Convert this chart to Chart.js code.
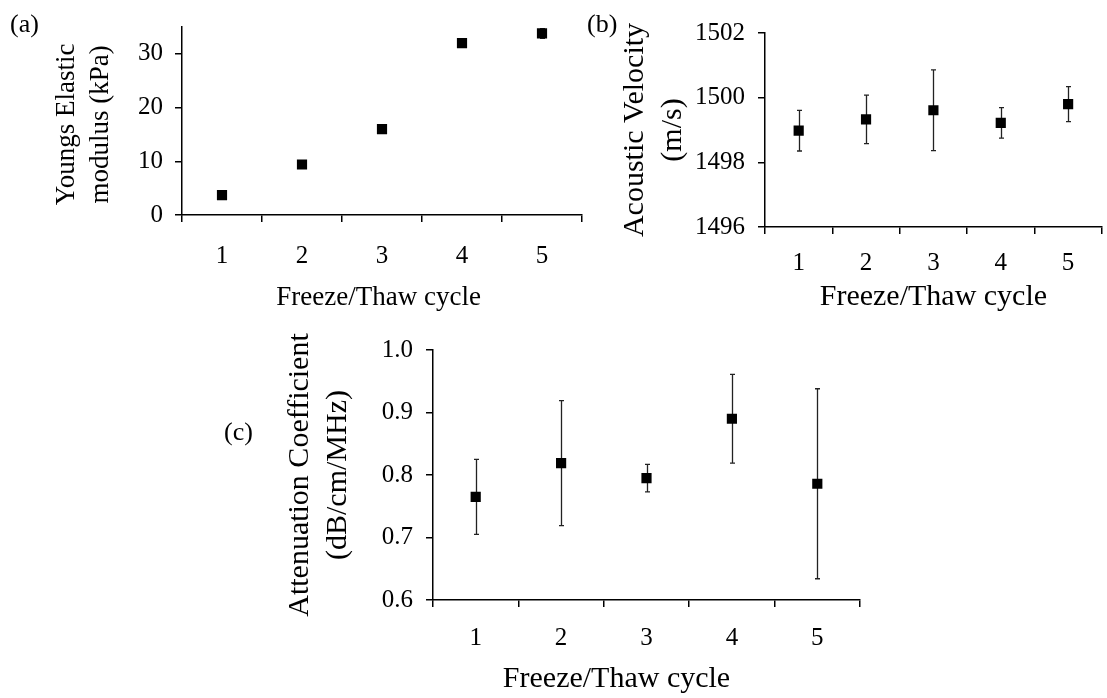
<!DOCTYPE html>
<html>
<head>
<meta charset="utf-8">
<script src="https://cdn.jsdelivr.net/npm/chart.js@4.4.1/dist/chart.umd.min.js"></script>
<style>
  body { margin: 0; background: #fff; overflow: hidden; width: 1107px; height: 698px; position: relative; }
  canvas { position: absolute; }
  .lab { position: absolute; font-family: 'Liberation Serif', serif; font-size: 26px; line-height: 26px; color: #000; z-index: 2; }
</style>
</head>
<body>
<canvas id="chartA" width="600" height="316" style="left:0;top:0"></canvas>
<canvas id="chartB" width="549" height="316" style="left:560px;top:0"></canvas>
<canvas id="chartC" width="620" height="378" style="left:250px;top:320px"></canvas>
<div class="lab" style="left:10px;top:11px">(a)</div>
<div class="lab" style="left:587px;top:11px">(b)</div>
<div class="lab" style="left:224px;top:419px">(c)</div>
<script>
// data
const cycles = ['1', '2', '3', '4', '5'];
const youngsModulus = [3.7, 9.4, 16.0, 32.0, 33.8];
const youngsErr = [0, 0, 0, 0, 0.9];
const velocity = [1498.98, 1499.33, 1499.61, 1499.22, 1499.80];
const velocityErr = [0.63, 0.75, 1.25, 0.47, 0.54];
const attenuation = [0.765, 0.819, 0.795, 0.890, 0.786];
const attenuationErr = [0.060, 0.100, 0.022, 0.071, 0.152];

const serif = 'Liberation Serif';
const nb = '\u00a0';

// error bars drawn from the y scale, behind the markers
const errorBarPlugin = {
  id: 'errorBars',
  beforeDatasetsDraw(chart, args, opts) {
    const errs = opts.errors;
    if (!errs) return;
    const ctx = chart.ctx;
    const meta = chart.getDatasetMeta(0);
    const yScale = chart.scales.y;
    const vals = chart.data.datasets[0].data;
    ctx.save();
    ctx.strokeStyle = opts.color;
    ctx.lineWidth = opts.width;
    meta.data.forEach(function(pt, i) {
      const e = errs[i];
      if (!e) return;
      const x = Math.round(pt.x) + 0.5;
      const top = yScale.getPixelForValue(vals[i] + e);
      const bot = yScale.getPixelForValue(vals[i] - e);
      ctx.beginPath();
      ctx.moveTo(x, top); ctx.lineTo(x, bot);
      ctx.moveTo(x - 2.5, top); ctx.lineTo(x + 2.5, top);
      ctx.moveTo(x - 2.5, bot); ctx.lineTo(x + 2.5, bot);
      ctx.stroke();
    });
    ctx.restore();
  }
};

function makePanel(id, p) {
  return new Chart(document.getElementById(id), {
    type: 'line',
    data: {
      labels: cycles,
      datasets: [{
        data: p.values,
        showLine: false,
        pointStyle: 'rect',
        pointRadius: 7.2,
        pointBackgroundColor: '#000',
        pointBorderColor: '#000',
        pointBorderWidth: 0
      }]
    },
    options: {
      responsive: false,
      animation: false,
      layout: { padding: p.padding },
      plugins: {
        legend: { display: false },
        tooltip: { enabled: false },
        errorBars: { errors: p.errors, color: '#222', width: 1.3 }
      },
      scales: {
        x: {
          type: 'category',
          offset: true,
          grid: { offset: true, drawOnChartArea: false, drawTicks: true, tickLength: 7, color: '#000', lineWidth: 1.5 },
          border: { display: true, color: '#000', width: 1.5 },
          ticks: { color: '#000', font: { family: serif, size: 25 }, padding: p.xTickPad, maxRotation: 0 },
          title: { display: true, text: p.xTitle, color: '#000',
                   font: { family: serif, size: p.titleSize, lineHeight: 1.26 }, padding: { top: 0, bottom: 0 } },
          afterFit: function(scale) { scale.height = p.xHeight; }
        },
        y: {
          min: p.min,
          max: p.max,
          grid: { drawOnChartArea: false, drawTicks: true, tickLength: 7, color: '#000', lineWidth: 1.5 },
          border: { display: true, color: '#000', width: 1.5 },
          ticks: {
            stepSize: p.step,
            color: '#000',
            font: { family: serif, size: 25 },
            padding: p.yTickPad,
            callback: function(v) { return p.fmt(v); }
          },
          afterBuildTicks: function(scale) {
            // keep only the regular steps (drops the unlabeled 35 in panel a)
            scale.ticks = scale.ticks.filter(function(t) {
              return Math.abs(Math.round((t.value - p.min) / p.step) * p.step - (t.value - p.min)) < 1e-6;
            });
          },
          title: { display: true, text: p.yTitle, color: '#000',
                   font: { family: serif, size: p.titleSize, lineHeight: 1.26 }, padding: { top: p.yTitlePad, bottom: 0 } },
          afterFit: function(scale) { scale.width = p.yWidth; }
        }
      }
    },
    plugins: [errorBarPlugin]
  });
}

// (a) Youngs modulus
makePanel('chartA', {
  values: youngsModulus, errors: youngsErr,
  min: 0, max: 35, step: 10,
  fmt: function(v) { return String(v); },
  xTitle: 'Freeze/Thaw cycle' + nb,
  yTitle: ['Youngs Elastic' + nb, 'modulus (kPa)' + nb],
  titleSize: 27, yTitlePad: 50, yWidth: 182, xHeight: 100,
  xTickPad: 19, yTickPad: 12,
  padding: { top: 4, right: 18, bottom: 1, left: 0 }
});

// (b) acoustic velocity
makePanel('chartB', {
  values: velocity, errors: velocityErr,
  min: 1496, max: 1502, step: 2,
  fmt: function(v) { return String(v); },
  xTitle: 'Freeze/Thaw cycle',
  yTitle: ['Acoustic Velocity', '(m/s)'],
  titleSize: 30, yTitlePad: 56, yWidth: 205, xHeight: 89,
  xTickPad: 14, yTickPad: 13,
  padding: { top: 33, right: 0, bottom: 0, left: 0 }
});

// (c) attenuation
makePanel('chartC', {
  values: attenuation, errors: attenuationErr,
  min: 0.6, max: 1.0, step: 0.1,
  fmt: function(v) { return v.toFixed(1); },
  xTitle: 'Freeze/Thaw cycle' + nb.repeat(8),
  yTitle: ['Attenuation Coefficient', '(dB/cm/MHz)'],
  titleSize: 30, yTitlePad: 31, yWidth: 183, xHeight: 98,
  xTickPad: 16, yTickPad: 13,
  padding: { top: 30, right: 10, bottom: 0, left: 0 }
});
</script>
</body>
</html>
